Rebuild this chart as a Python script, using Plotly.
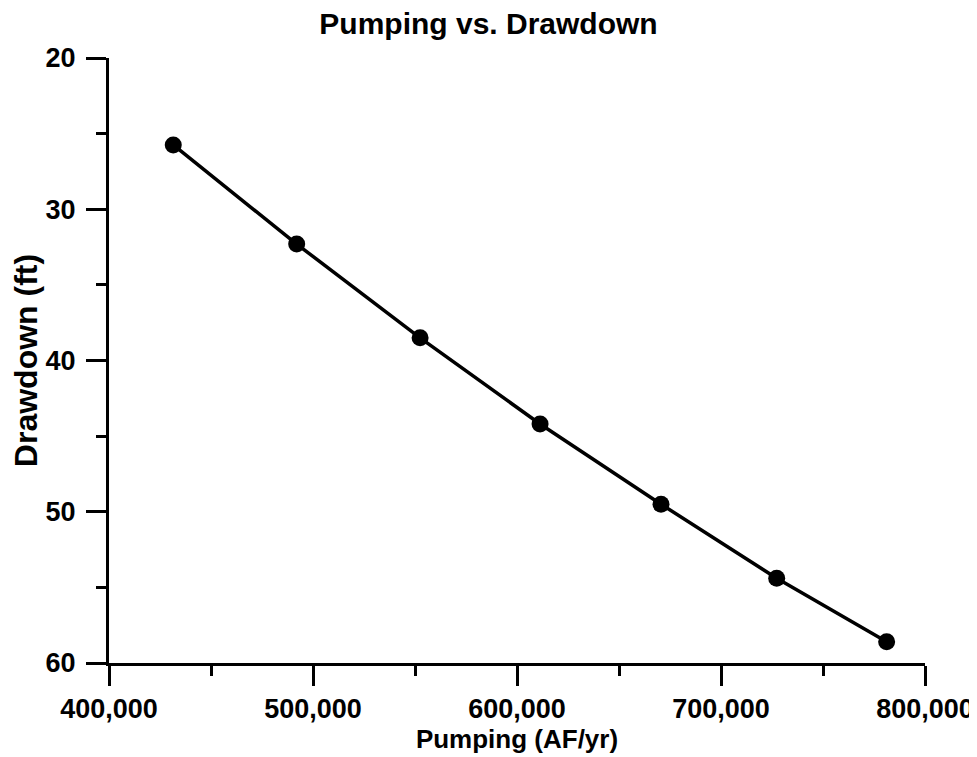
import plotly.graph_objects as go

pumping = [431500, 492000, 552500, 611300, 670600, 727300, 781200]
drawdown = [25.75, 32.3, 38.5, 44.2, 49.5, 54.4, 58.6]

x_ticks = [400000, 500000, 600000, 700000, 800000]
x_labels = ["400,000", "500,000", "600,000", "700,000", "800,000"]
y_ticks = [20, 30, 40, 50, 60]

FONT = "Liberation Sans, Arial, sans-serif"

# page body adds an 8px offset; figure is sized so the plot lands where the reference has it
W, H = 969, 749

fig = go.Figure()
fig.add_trace(go.Scatter(
    x=pumping, y=drawdown, mode="lines+markers",
    line=dict(color="black", width=3.5),
    marker=dict(color="black", size=17),
    showlegend=False, hoverinfo="x+y",
))

fig.update_layout(
    width=W, height=H,
    margin=dict(l=101, r=52, t=50, b=94, autoexpand=False),
    paper_bgcolor="white", plot_bgcolor="white",
    font=dict(family=FONT, color="black"),
    title=dict(text="<b>Pumping vs. Drawdown</b>", font=dict(size=30, family=FONT),
               x=480.5 / W, xref="container", xanchor="center",
               y=1 - 15 / H, yref="container", yanchor="middle"),
    xaxis=dict(
        range=[400000, 800000], tickvals=x_ticks, ticktext=["<b>%s</b>" % t for t in x_labels],
        showline=True, linecolor="black", linewidth=3, showgrid=False, zeroline=False,
        ticks="outside", ticklen=20, tickwidth=3, tickcolor="black",
        tickfont=dict(size=27, family=FONT), ticklabeloverflow="allow",
        minor=dict(dtick=50000, tick0=400000, ticks="outside", ticklen=10, tickwidth=3,
                   tickcolor="black", showgrid=False),
        title=dict(text="<b>Pumping (AF/yr)</b>", font=dict(size=26, family=FONT), standoff=0),
        automargin=False,
    ),
    yaxis=dict(
        range=[60, 20], tickvals=y_ticks, ticktext=["<b>%d</b>" % t for t in y_ticks],
        showline=True, linecolor="black", linewidth=3, showgrid=False, zeroline=False,
        ticks="outside", ticklen=20, tickwidth=3, tickcolor="black",
        tickfont=dict(size=27, family=FONT), ticklabelstandoff=5,
        minor=dict(dtick=5, tick0=20, ticks="outside", ticklen=10, tickwidth=3,
                   tickcolor="black", showgrid=False),
        title=dict(text="<b>Drawdown (ft)</b>", font=dict(size=32, family=FONT), standoff=0),
        automargin=False,
    ),
)

fig.write_html("out.html")
